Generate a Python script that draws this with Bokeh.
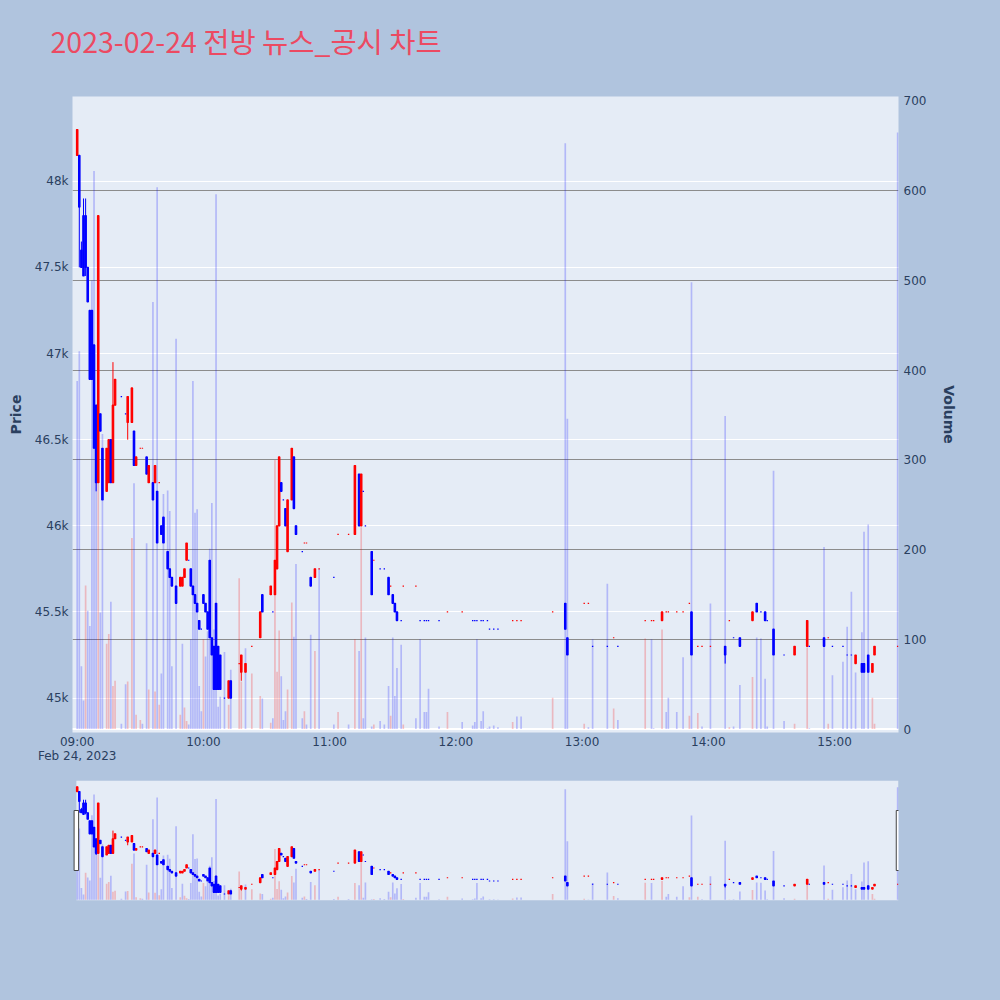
# -*- coding: utf-8 -*-
# 2023-02-24 전방 1분봉 + 거래량 (뉴스_공시 차트)

import numpy as np
import pandas as pd

from bokeh.plotting import figure
from bokeh.layouts import column
from bokeh.models import (ColumnDataSource, Range1d, LinearAxis, Grid, Span, BoxAnnotation,
                          SingleIntervalTicker, FixedTicker, NumeralTickFormatter,
                          DatetimeTickFormatter)
from bokeh.embed import file_html
from bokeh.resources import INLINE

trade_date = "2023-02-24"
title_text = "2023-02-24 전방 뉴스_공시 차트"
prev_close = 48600   # 전일 종가 (첫 거래량 색 판단용)

# 09:00 부터 경과 분
minute = [0, 1, 2, 3, 4, 5, 6, 7, 8, 9, 10, 11, 12, 14, 15, 16, 17, 18, 21, 23,
          24, 26, 27, 28, 30, 31, 33, 34, 36, 37, 38, 39, 40, 41, 43, 44, 45, 47, 49, 50,
          51, 52, 53, 54, 55, 56, 57, 58, 59, 60, 61, 62, 63, 64, 65, 66, 67, 68, 70, 72,
          73, 77, 78, 80, 83, 87, 88, 92, 93, 94, 95, 96, 97, 98, 99, 100, 102, 103, 104, 107,
          108, 109, 111, 113, 115, 122, 124, 129, 132, 134, 135, 136, 137, 140, 141, 144, 146, 148, 149, 150,
          151, 152, 154, 155, 161, 163, 165, 166, 167, 172, 176, 183, 188, 189, 190, 192, 193, 195, 196, 198,
          200, 207, 209, 211, 226, 232, 233, 241, 243, 245, 252, 255, 257, 270, 273, 274, 278, 280, 281, 285,
          288, 291, 292, 295, 297, 301, 308, 310, 312, 315, 321, 323, 325, 327, 328, 331, 336, 341, 347, 348,
          355, 357, 359, 364, 366, 368, 370, 373, 374, 376, 378, 379, 390]
open_p = [48150, 48150, 47600, 47800, 47800, 47500, 47250, 47250, 47050, 46700, 46250, 46650, 46450, 46200, 46250, 46500, 46250, 46700, 46750, 46650,
          46600, 46600, 46550, 46350, 46450, 46450, 46400, 46250, 46250, 46250, 46200, 46250, 46000, 46050, 45850, 45750, 45700, 45650, 45650, 45650,
          45700, 45800, 45800, 45750, 45650, 45600, 45550, 45450, 45400, 45600, 45550, 45500, 45800, 45350, 45300, 45550, 45300, 45250, 45000, 45000,
          45100, 45200, 45150, 45150, 45300, 45350, 45600, 45600, 45500, 45600, 45750, 46000, 46250, 46150, 46100, 45850, 46150, 46400, 46000, 45850,
          45900, 45900, 45700, 45700, 45750, 45700, 45950, 45950, 45950, 46300, 46000, 46200, 46000, 45850, 45800, 45750, 45750, 45700, 45650, 45600,
          45550, 45500, 45450, 45650, 45650, 45450, 45450, 45450, 45450, 45450, 45500, 45500, 45450, 45450, 45450, 45450, 45450, 45450, 45400, 45400,
          45400, 45450, 45450, 45450, 45500, 45550, 45350, 45550, 45550, 45300, 45300, 45350, 45300, 45450, 45450, 45450, 45450, 45500, 45500, 45500,
          45500, 45550, 45500, 45300, 45300, 45300, 45300, 45450, 45350, 45350, 45450, 45550, 45500, 45500, 45450, 45400, 45250, 45250, 45300, 45300,
          45350, 45350, 45300, 45300, 45250, 45250, 45200, 45200, 45200, 45250, 45150, 45250, 45300]
high_p = [48300, 48150, 47650, 47900, 47900, 47500, 47250, 47250, 47050, 46700, 47800, 46650, 46450, 46450, 46500, 46500, 46950, 46850, 46750, 46650,
          46750, 46800, 46550, 46400, 46450, 46450, 46400, 46350, 46250, 46350, 46200, 46250, 46000, 46050, 45850, 45750, 45700, 45650, 45700, 45700,
          45750, 45900, 45800, 45750, 45650, 45600, 45550, 45450, 45400, 45600, 45550, 45500, 45800, 45350, 45300, 45550, 45300, 45250, 45000, 45100,
          45100, 45200, 45250, 45200, 45300, 45500, 45600, 45650, 45500, 45800, 46000, 46400, 46250, 46150, 46100, 46150, 46450, 46400, 46000, 45850,
          45900, 45900, 45700, 45750, 45750, 45700, 45950, 45950, 46350, 46300, 46300, 46200, 46000, 45850, 45800, 45750, 45750, 45700, 45650, 45600,
          45550, 45500, 45450, 45650, 45650, 45450, 45450, 45450, 45450, 45450, 45500, 45500, 45450, 45450, 45450, 45450, 45450, 45450, 45400, 45400,
          45400, 45450, 45450, 45450, 45500, 45550, 45350, 45550, 45550, 45300, 45300, 45350, 45300, 45450, 45450, 45450, 45500, 45500, 45500, 45500,
          45500, 45550, 45500, 45300, 45300, 45300, 45300, 45450, 45350, 45350, 45500, 45550, 45500, 45500, 45450, 45400, 45250, 45300, 45450, 45300,
          45350, 45350, 45300, 45300, 45250, 45250, 45250, 45200, 45200, 45250, 45200, 45300, 45300]
low_p = [48150, 47500, 47500, 47450, 47450, 47300, 46850, 46850, 46450, 46200, 46250, 46550, 46150, 46200, 46250, 46250, 46250, 46700, 46750, 46650,
         46500, 46600, 46350, 46350, 46450, 46450, 46300, 46250, 46150, 46250, 45900, 46250, 45950, 45900, 45750, 45700, 45650, 45550, 45650, 45650,
         45700, 45800, 45800, 45650, 45600, 45550, 45500, 45400, 45400, 45550, 45500, 45400, 45350, 45250, 45050, 45050, 45050, 45050, 45000, 45000,
         45000, 45200, 45100, 45150, 45300, 45350, 45500, 45600, 45500, 45600, 45750, 46000, 46200, 46150, 46000, 45850, 46150, 46100, 45950, 45850,
         45900, 45900, 45650, 45700, 45750, 45700, 45950, 45950, 45950, 46000, 46000, 46200, 46000, 45600, 45800, 45750, 45750, 45600, 45650, 45550,
         45500, 45450, 45450, 45650, 45650, 45450, 45450, 45450, 45450, 45450, 45500, 45500, 45450, 45450, 45450, 45450, 45450, 45450, 45400, 45400,
         45400, 45450, 45450, 45450, 45500, 45400, 45250, 45550, 45550, 45300, 45300, 45350, 45300, 45450, 45450, 45450, 45450, 45500, 45500, 45500,
         45500, 45550, 45250, 45300, 45300, 45300, 45200, 45450, 45350, 45300, 45450, 45500, 45500, 45450, 45450, 45250, 45250, 45250, 45300, 45300,
         45300, 45350, 45300, 45300, 45250, 45250, 45200, 45150, 45150, 45150, 45150, 45250, 45300]
close_p = [48300, 47850, 47500, 47450, 47500, 47300, 46850, 46850, 46450, 46250, 47800, 46550, 46150, 46450, 46500, 46250, 46700, 46850, 46750, 46650,
           46750, 46800, 46350, 46400, 46450, 46450, 46300, 46350, 46150, 46350, 45900, 46250, 45950, 45900, 45750, 45700, 45650, 45550, 45700, 45700,
           45750, 45900, 45800, 45650, 45600, 45550, 45500, 45400, 45400, 45550, 45500, 45400, 45350, 45250, 45050, 45050, 45050, 45050, 45000, 45100,
           45000, 45200, 45250, 45200, 45300, 45500, 45500, 45650, 45500, 45800, 46000, 46400, 46200, 46150, 46000, 46150, 46450, 46100, 45950, 45850,
           45900, 45900, 45650, 45750, 45750, 45700, 45950, 45950, 46350, 46000, 46300, 46200, 46000, 45600, 45800, 45750, 45750, 45600, 45650, 45550,
           45500, 45450, 45450, 45650, 45650, 45450, 45450, 45450, 45450, 45450, 45500, 45500, 45450, 45450, 45450, 45450, 45450, 45450, 45400, 45400,
           45400, 45450, 45450, 45450, 45500, 45400, 45250, 45550, 45550, 45300, 45300, 45350, 45300, 45450, 45450, 45450, 45500, 45500, 45500, 45500,
           45500, 45550, 45250, 45300, 45300, 45300, 45250, 45450, 45350, 45300, 45500, 45500, 45500, 45450, 45450, 45250, 45250, 45300, 45450, 45300,
           45300, 45350, 45300, 45300, 45250, 45250, 45250, 45150, 45150, 45150, 45200, 45300, 45300]
volume = [388, 421, 70, 32, 160, 132, 115, 500, 622, 330, 378, 130, 329, 95, 106, 142, 48, 54, 6, 50,
          53, 213, 274, 16, 10, 6, 207, 44, 476, 42, 604, 27, 62, 262, 266, 243, 70, 435, 16, 95,
          24, 9, 5, 100, 388, 241, 245, 48, 20, 100, 81, 109, 201, 252, 111, 596, 25, 36, 86, 27,
          66, 168, 53, 90, 62, 37, 34, 7, 12, 300, 64, 110, 59, 10, 20, 44, 141, 103, 184, 12,
          20, 5, 105, 87, 179, 5, 19, 5, 100, 87, 225, 12, 102, 3, 5, 9, 5, 48, 15, 102,
          37, 68, 94, 5, 12, 100, 19, 19, 45, 3, 19, 8, 4, 8, 100, 9, 20, 1, 3, 4,
          2, 8, 14, 14, 35, 653, 346, 6, 2, 100, 162, 23, 10, 101, 100, 1, 111, 19, 35, 19,
          80, 15, 498, 18, 3, 140, 349, 2, 3, 49, 58, 102, 101, 56, 3, 288, 9, 6, 91, 1,
          203, 6, 60, 75, 114, 153, 63, 108, 220, 228, 35, 6, 665]

# 축 눈금
hour_ticks = ["09:00", "10:00", "11:00", "12:00", "13:00", "14:00", "15:00"]
vol_grid_ticks = [100, 200, 300, 400, 500, 600]


def candle_dir(o_list, c_list):
    """plotly 방식: 시가=종가 이면 직전 종가와 비교"""
    dirs = []
    prev_c, prev_d = None, True
    for o, c in zip(o_list, c_list):
        if c != o:
            d = c > o
        elif prev_c is not None and c != prev_c:
            d = c > prev_c
        else:
            d = prev_d
        dirs.append(d)
        prev_c, prev_d = c, d
    return dirs


def volume_dir(c_list, first_ref):
    """직전 종가보다 오르면 빨강"""
    refs = [first_ref] + list(c_list[:-1])
    return [c > r for c, r in zip(c_list, refs)]


def to_ms(ts):
    return (ts - pd.Timestamp(0)).total_seconds() * 1000


t0 = pd.Timestamp(trade_date + " 09:00")
df = pd.DataFrame({'minute': minute, 'open': open_p, 'high': high_p,
                   'low': low_p, 'close': close_p, 'volume': volume})
df['dt'] = t0 + pd.to_timedelta(df['minute'], unit='m')
df['top'] = df[['open', 'close']].max(axis=1)
df['bottom'] = df[['open', 'close']].min(axis=1)
df['color'] = np.where(candle_dir(open_p, close_p), 'red', 'blue')
df['vol_color'] = np.where(volume_dir(close_p, prev_close), 'red', 'blue')
src = ColumnDataSource(df)

# 범위
x_start = t0 - pd.Timedelta(seconds=134)
x_end = t0 + pd.Timedelta(seconds=23424)
price_lo, price_hi = 44800, 48492
vol_lo, vol_hi = -3.8, 705
ms_per_px = (to_ms(x_end) - to_ms(x_start)) / 826
price_per_px = (price_hi - price_lo) / 120   # 슬라이더 높이 120px

BG = "#b0c4de"
PLOT_BG = "#e5ecf6"
FONT_C = "#2a3f5f"
TICK_FONT = "DejaVu Sans"


def draw_candles(f):
    # 거래량
    f.vbar(x='dt', width=48000, top='volume', bottom=0, y_range_name='vol',
           fill_color='vol_color', line_color=None, fill_alpha=0.22, source=src)
    # 캔들
    f.segment(x0='dt', y0='high', x1='dt', y1='low', line_color='color', line_width=1, source=src)
    f.vbar(x='dt', width=40000, top='top', bottom='bottom', fill_color='color',
           line_color='color', line_width=1.2, source=src)


# 제목 영역
t = figure(width=1000, height=68, title=title_text,
           x_axis_location=None, y_axis_location=None,
           output_backend="svg", toolbar_location=None,
           min_border_left=72, min_border_right=102, min_border_top=60, min_border_bottom=0,
           background_fill_color=BG, border_fill_color=BG, outline_line_color=None)
t.title.text_font = "Noto Sans CJK KR"
t.title.text_font_size = "28.5px"
t.title.text_font_style = "normal"
t.title.text_color = "#ec4a62"
t.title.align = "left"
t.title.vertical_align = "bottom"
t.title.offset = -22
t.title.standoff = 0

# 메인 차트
p = figure(width=1000, height=705, x_axis_type='datetime',
           x_range=Range1d(x_start, x_end), y_range=Range1d(price_lo, price_hi),
           output_backend="svg", toolbar_location=None,
           min_border_left=72, min_border_right=102, min_border_top=28, min_border_bottom=41,
           background_fill_color=PLOT_BG, border_fill_color=BG, outline_line_color=None)
p.extra_y_ranges = {'vol': Range1d(vol_lo, vol_hi)}

vax = LinearAxis(y_range_name='vol', axis_label="Volume",
                 ticker=SingleIntervalTicker(interval=100, num_minor_ticks=0))
p.add_layout(vax, 'right')

pax = p.yaxis[0]
pax.axis_label = "Price"
pax.ticker = SingleIntervalTicker(interval=500, num_minor_ticks=0)
pax.formatter = NumeralTickFormatter(format="0.[0]a")

xax = p.xaxis[0]
xax.ticker = FixedTicker(ticks=[to_ms(pd.Timestamp(trade_date + " " + h)) for h in hour_ticks])
xax.formatter = DatetimeTickFormatter(
    hours="%H:%M", hourmin="%H:%M", minutes="%H:%M",
    context=DatetimeTickFormatter(hours="%b %d, %Y", hourmin="%b %d, %Y", minutes="%b %d, %Y"),
    context_which="start", context_location="below")

for ax in (pax, vax, xax):
    ax.axis_line_color = None
    ax.major_tick_line_color = None
    ax.minor_tick_line_color = None
    ax.major_tick_in = 0
    ax.major_tick_out = 0
    ax.major_label_text_font = TICK_FONT
    ax.major_label_text_font_size = "12px"
    ax.major_label_text_color = FONT_C
    ax.axis_label_text_font = TICK_FONT
    ax.axis_label_text_font_size = "14px"
    ax.axis_label_text_font_style = "bold"
    ax.axis_label_text_color = FONT_C
pax.major_label_standoff = 4
pax.axis_label_standoff = 8
vax.major_label_standoff = 5
vax.axis_label_standoff = 12
xax.major_label_standoff = 2
xax.major_label_text_line_height = 1.05

p.xgrid.visible = False
p.ygrid.grid_line_color = "white"
p.ygrid.grid_line_width = 1
vgrid = Grid(dimension=1, y_range_name='vol', ticker=FixedTicker(ticks=vol_grid_ticks),
             grid_line_color="#8c8c8c", grid_line_width=1)
p.add_layout(vgrid)
p.add_layout(Span(location=0, dimension='width', y_range_name='vol',
                  line_color="white", line_width=2, level='underlay'))

draw_candles(p)

# 레인지 슬라이더
s = figure(width=1000, height=220, x_axis_type='datetime', title=None,
           x_range=Range1d(x_start, x_end), y_range=Range1d(price_lo, price_hi),
           x_axis_location=None, y_axis_location=None,
           output_backend="svg", toolbar_location=None,
           min_border_left=72, min_border_right=102, min_border_top=7, min_border_bottom=93,
           background_fill_color=BG, border_fill_color=BG, outline_line_color=None)
s.extra_y_ranges = {'vol': Range1d(vol_lo, vol_hi)}
s.grid.visible = False

half_bar = pd.Timedelta(seconds=24)
slider_left = to_ms(df['dt'].iloc[0] - half_bar)
slider_right = to_ms(df['dt'].iloc[-1] + half_bar)
s.add_layout(BoxAnnotation(left=slider_left, right=slider_right,
                           fill_color=PLOT_BG, fill_alpha=1, line_color=None, level='underlay'))
draw_candles(s)

# 슬라이더 손잡이
mid_price = (price_lo + price_hi) / 2
for edge in (slider_left, slider_right):
    s.add_layout(BoxAnnotation(left=edge - 2.25 * ms_per_px, right=edge + 2.25 * ms_per_px,
                               bottom=mid_price - 30 * price_per_px, top=mid_price + 30 * price_per_px,
                               fill_color="white", fill_alpha=1,
                               line_color="#444444", line_width=1, line_alpha=1))

layout = column(t, p, s)
html = file_html(layout, INLINE)
html = html.replace("<body>", '<body style="background-color:%s;">' % BG)
open("out.html", "w").write(html)
